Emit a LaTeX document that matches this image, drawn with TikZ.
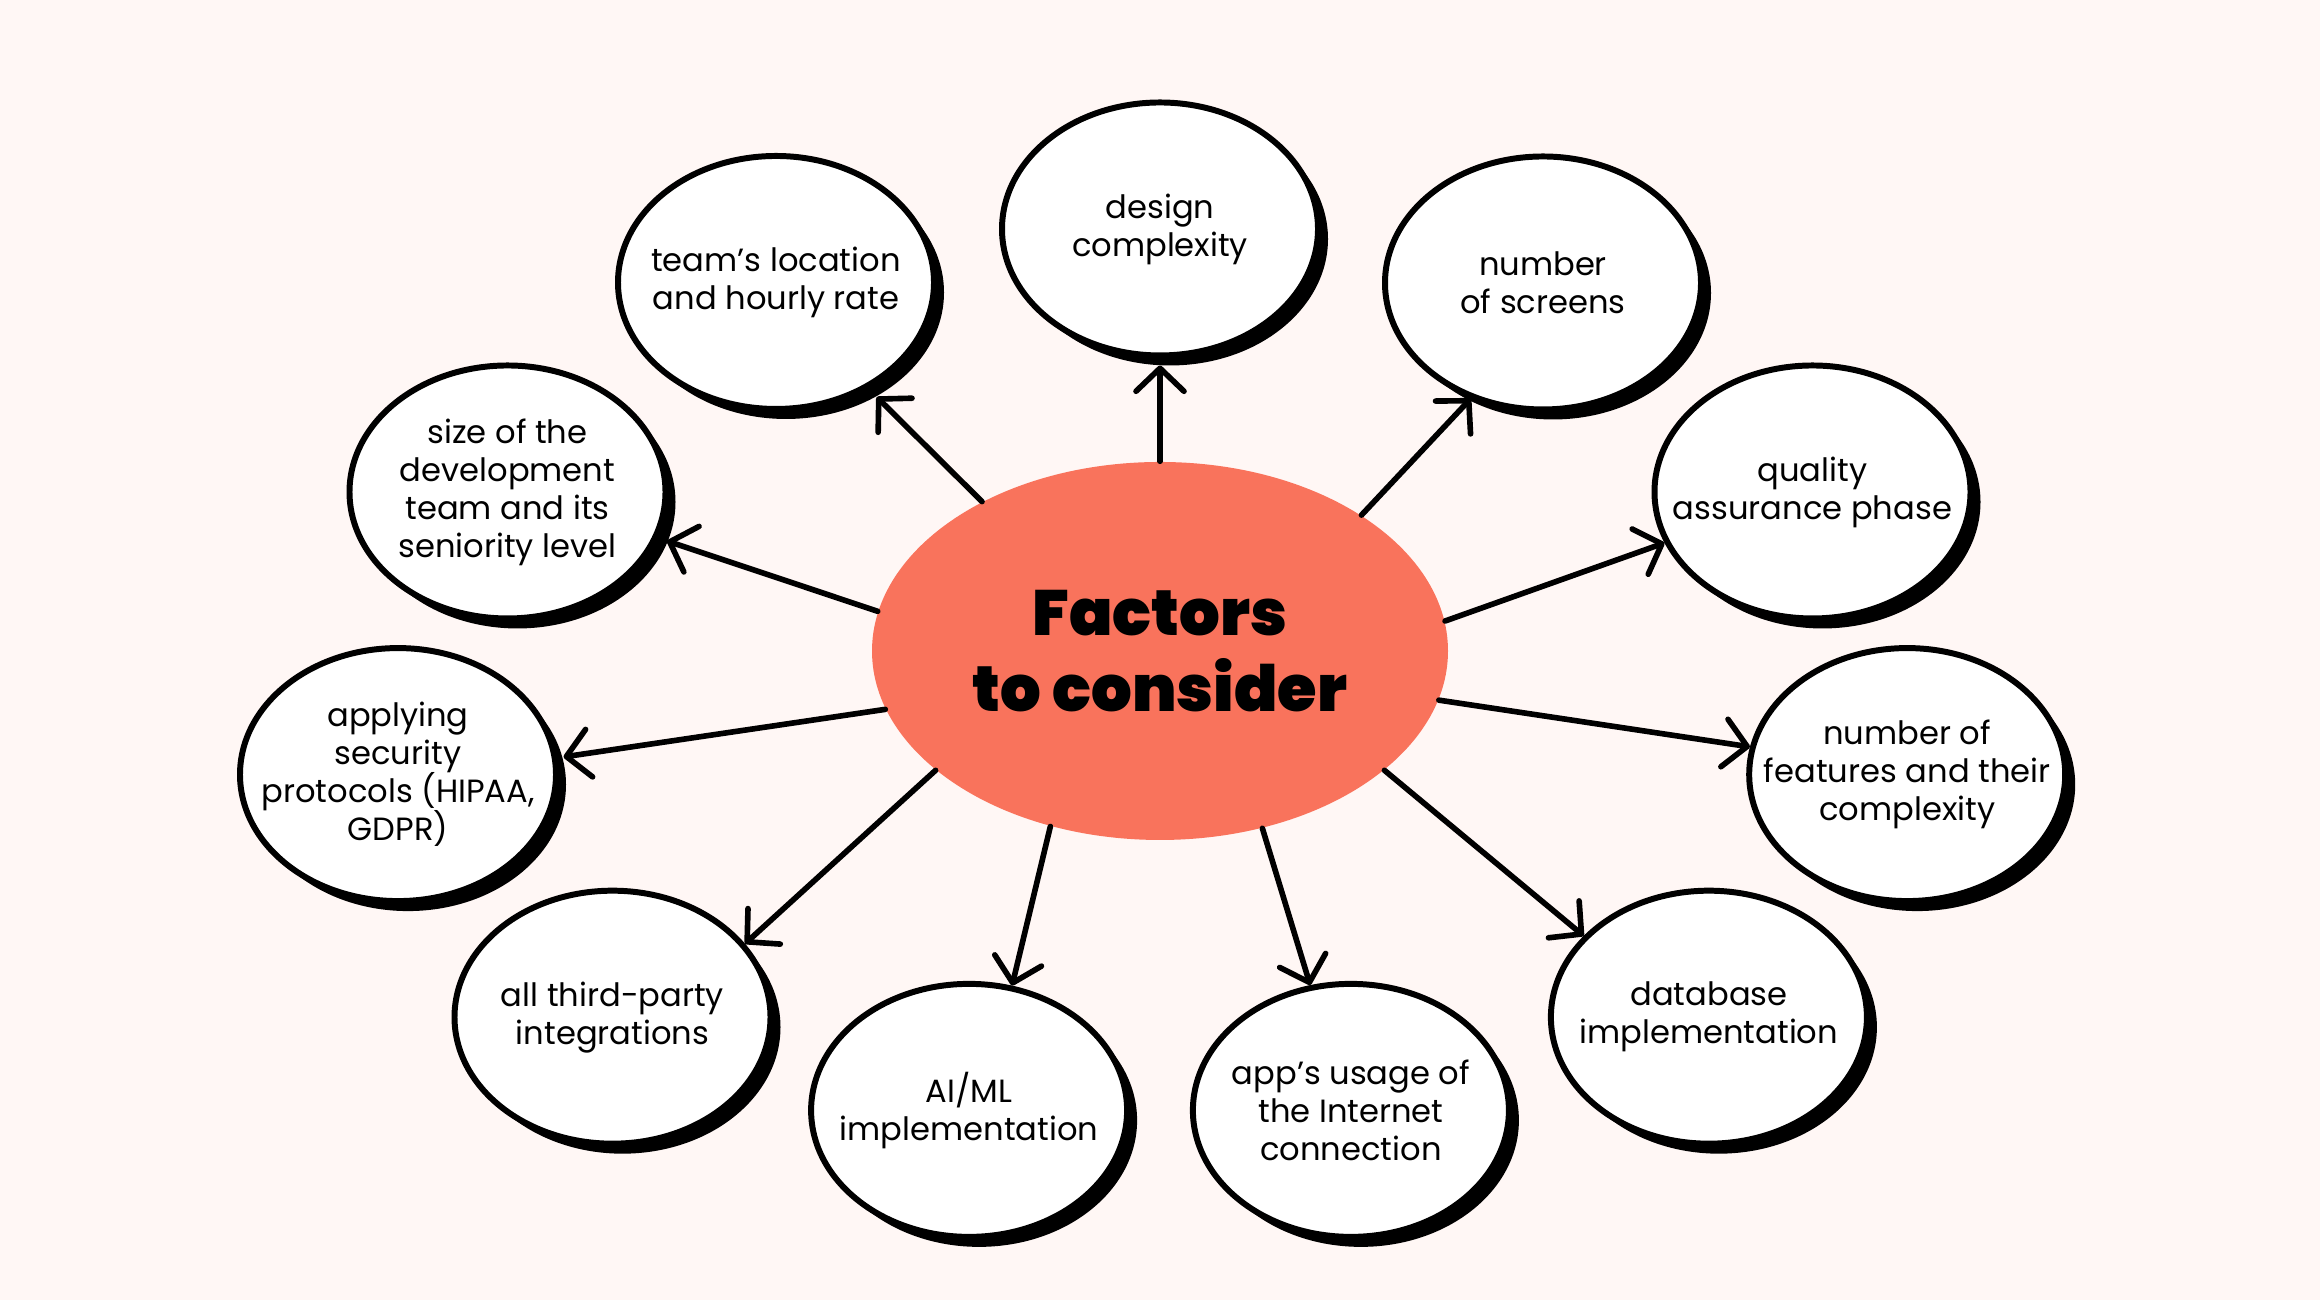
\documentclass[tikz,border=0pt]{standalone}
\usepackage{fontspec}
\setmainfont{Poppins}
\IfFontExistsTF{Poppins Black}{\newfontfamily\titlefont{Poppins Black}}{\newcommand\titlefont{\bfseries}}
\usepackage{xcolor}
\usepackage{tikz}
\usetikzlibrary{shapes.geometric,shadows,arrows.meta}
\definecolor{mysalmon}{RGB}{249,115,92}
\definecolor{mybg}{RGB}{255,247,245}
\newcommand\tightlines{\lineskiplimit=-20pt\relax}

\begin{document}
\begin{tikzpicture}[
        factor/.style={ellipse, draw=black, line width=1.7pt, fill=white, inner sep=0pt,
                minimum width=3.16cm, minimum height=2.53cm,
                drop shadow={shadow xshift=0.1cm, shadow yshift=-0.1cm, fill=black, opacity=1}},
        txt/.style={align=center, inner sep=0pt,
                font=\fontsize{9.15}{10.8}\selectfont\tightlines},
        link/.style={line width=1.6pt, line cap=round,
                -{Straight Barb[length=2.3mm, width=4.8mm, round]}}]
        \fill[mybg] (0,0) rectangle (23.2,13);
        \node[ellipse, fill=mysalmon, minimum width=5.76cm, minimum height=3.78cm, align=center,
                font=\titlefont\fontsize{18.2}{21.5}\selectfont] (factors) at (11.6,6.49) {Factors\\to consider};
        \node[factor, label={[txt]center:design\\complexity}] (design) at (11.6,10.71) {};
        \node[factor, label={[txt]center:team’s location\\and hourly rate}] (team) at (7.76,10.175) {};
        \node[factor, label={[txt]center:number\\of screens}] (screens) at (15.43,10.17) {};
        \node[factor, label={[txt]center:size of the\\development\\team and its\\seniority level}] (size) at (5.075,8.08) {};
        \node[factor, label={[txt]center:quality\\assurance phase}] (qa) at (18.125,8.08) {};
        \node[factor, label={[txt]center:applying\\security\\protocols (HIPAA,\\GDPR)}] (security) at (3.98,5.254) {};
        \node[factor, label={[txt]center:number of\\features and their\\complexity}] (features) at (19.072,5.254) {};
        \node[factor, label={[txt]center:all third-party\\integrations}] (thirdparty) at (6.125,2.828) {};
        \node[factor, label={[txt]center:AI/ML\\implementation}] (aiml) at (9.691,1.896) {};
        \node[factor, label={[txt]center:app’s usage of\\the Internet\\connection}] (internet) at (13.509,1.896) {};
        \node[factor, label={[txt]center:database\\implementation}] (database) at (17.089,2.828) {};
        \draw[link, shorten >=1.2mm] (factors.140.7) -- (team.311.4);
        \draw[link, shorten >=0.7mm] (factors.90) -- (design.270);
        \draw[link] (factors.34.6) -- (screens.238.5);
        \draw[link, shorten >=0.95mm] (factors.172.6) -- (size.343.5);
        \draw[link] (factors.6.8) -- (qa.199);
        \draw[link, shorten >=0.6mm] (factors.192.1) -- (security.6.75);
        \draw[link] (factors.-10.9) -- (features.170.2);
        \draw[link] (factors.208.95) -- (thirdparty.29.5);
        \draw[link] (factors.238.3) -- (aiml.71.5);
        \draw[link] (factors.300.6) -- (internet.108.3);
        \draw[link] (factors.-28.66) -- (database.147.5);
\end{tikzpicture}
\end{document}
